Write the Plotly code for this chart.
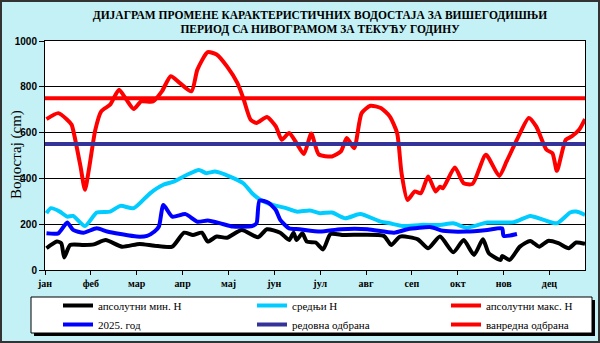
import plotly.graph_objects as go

# --- data (x = day of year, y = water level in cm) ---
months = ["јан", "феб", "мар", "апр", "мај", "јун", "јул", "авг", "сеп", "окт", "нов", "дец"]

min_days = [1, 8, 11, 13, 17, 26, 33, 41, 52, 64, 74, 86, 94, 100, 106, 110, 116, 123, 133, 144,
            150, 159, 165, 168, 170, 174, 177, 183, 188, 193, 202, 229, 234, 240, 252, 259, 267,
            276, 283, 290, 296, 300, 308, 309, 314, 321, 328, 334, 340, 347, 354, 359, 365]
min_h = [95, 124, 117, 55, 109, 109, 112, 131, 102, 114, 106, 102, 163, 153, 163, 124, 146, 141, 175, 143,
         178, 163, 131, 163, 131, 160, 124, 120, 90, 157, 153, 149, 109, 146, 134, 95, 146,
         77, 131, 66, 134, 73, 44, 61, 44, 102, 127, 102, 127, 117, 95, 120, 114]

mean_days = [1, 4, 10, 15, 19, 27, 35, 44, 51, 60, 71, 80, 87, 96, 104, 109, 115, 125, 134, 140, 145,
             154, 163, 170, 179, 186, 194, 203, 213, 227, 233, 242, 254, 267, 276, 285, 299, 317,
             328, 337, 346, 355, 359, 365]
mean_h = [248, 270, 255, 233, 236, 192, 251, 255, 280, 270, 335, 372, 386, 416, 437, 423, 430, 408, 379, 335, 309,
          284, 270, 255, 260, 248, 251, 226, 244, 211, 204, 192, 197, 197, 204, 185, 207, 209,
          236, 219, 204, 251, 255, 241]

max_days = [1, 9, 15, 18, 20, 24, 27, 30, 34, 38, 44, 50, 55, 60, 65, 73, 79, 85, 91, 99, 103, 110, 116,
            123, 130, 134, 139, 143, 150, 156, 160, 165, 170, 175, 180, 185, 194, 200, 204, 209, 214,
            220, 227, 233, 238, 241, 245, 250, 254, 259, 264, 267, 269, 277, 283, 289, 298, 307, 312,
            319, 327, 332, 339, 343, 346, 352, 356, 361, 365]
max_h = [659, 685, 656, 634, 583, 452, 350, 452, 612, 693, 722, 787, 744, 703, 736, 736, 780, 846, 817, 780, 875, 951, 941,
         889, 817, 751, 656, 642, 668, 627, 569, 598, 554, 506, 596, 505, 496, 518, 576, 532, 685,
         717, 707, 671, 598, 423, 306, 343, 335, 408, 343, 364, 357, 448, 379, 376, 503, 411, 474,
         569, 664, 627, 525, 510, 433, 569, 583, 612, 659]

cur_days = [1, 9, 15, 19, 26, 35, 42, 51, 62, 69, 74, 77, 80, 86, 95, 103, 110, 120, 127, 140, 143, 145,
            151, 156, 159, 165, 172, 186, 200, 218, 236, 245, 261, 269, 285, 299, 309, 310, 319]
cur_h = [160, 160, 207, 175, 163, 182, 168, 157, 146, 149, 168, 190, 284, 233, 244, 211, 216, 201, 190, 192, 204, 303,
         294, 262, 219, 182, 178, 168, 178, 178, 163, 178, 187, 171, 168, 175, 182, 149, 157]

regular_defence = 550
emergency_defence = 750

# --- layout geometry (pixels) ---
W, H = 600, 343
L, R, T, B = 45, 15, 41, 73
PW, PH = W - L - R, H - T - B
X_END = 365


def px(x):
    return (x - L) / PW


def py(y):
    return (H - B - y) / PH


serif = "Liberation Serif, Times New Roman, serif"
sans = "Liberation Sans, Arial, sans-serif"

fig = go.Figure()
lw = 4
fig.add_trace(go.Scatter(x=min_days, y=min_h, name="апсолутни мин. H", mode="lines",
                         line=dict(color="black", width=lw, shape="spline", smoothing=0.6)))
fig.add_trace(go.Scatter(x=mean_days, y=mean_h, name="средњи H", mode="lines",
                         line=dict(color="#00ccff", width=lw, shape="spline", smoothing=0.6)))
fig.add_trace(go.Scatter(x=max_days, y=max_h, name="апсолутни макс. H", mode="lines",
                         line=dict(color="#ff0000", width=lw, shape="spline", smoothing=0.6)))
fig.add_trace(go.Scatter(x=cur_days, y=cur_h, name="2025. год", mode="lines",
                         line=dict(color="#0000ff", width=lw, shape="spline", smoothing=0.6)))
fig.add_trace(go.Scatter(x=[0, X_END], y=[regular_defence] * 2, name="редовна одбрана", mode="lines",
                         line=dict(color="#333399", width=lw)))
fig.add_trace(go.Scatter(x=[0, X_END], y=[emergency_defence] * 2, name="ванредна одбрана", mode="lines",
                         line=dict(color="#ff0000", width=lw)))

shapes = [
    # legend shadow + box
    dict(type="rect", xref="paper", yref="paper", x0=px(34), x1=px(595), y0=py(300), y1=py(336),
         fillcolor="black", line=dict(width=0), layer="below"),
    dict(type="rect", xref="paper", yref="paper", x0=px(31), x1=px(592), y0=py(297), y1=py(333),
         fillcolor="white", line=dict(color="black", width=1), layer="below"),
    # outer frame
    dict(type="rect", xref="paper", yref="paper", x0=px(1), x1=px(599), y0=py(342), y1=py(1),
         line=dict(color="#333333", width=2)),
]

fig.update_layout(
    width=W, height=H,
    margin=dict(l=L, r=R, t=T, b=B, autoexpand=False),
    paper_bgcolor="#c4f1f5",
    plot_bgcolor="white",
    showlegend=True,
    shapes=shapes,
    title=dict(
        text="ДИЈАГРАМ ПРОМЕНЕ КАРАКТЕРИСТИЧНИХ ВОДОСТАЈА ЗА ВИШЕГОДИШЊИ<br>ПЕРИОД СА НИВОГРАМОМ ЗА ТЕКУЋУ ГОДИНУ",
        font=dict(family=serif, size=11.5, color="black", weight="bold"),
        x=px(320), xref="paper", xanchor="center",
        y=1 - 18.5 / H, yref="container", yanchor="middle",
    ),
    legend=dict(
        orientation="h", x=px(44), y=py(291), xanchor="left", yanchor="top",
        entrywidth=135, entrywidthmode="pixels", indentation=14,
        bgcolor="rgba(0,0,0,0)", font=dict(family=serif, size=11, color="black"),
        tracegroupgap=0,
    ),
    annotations=[
        # y-axis title sits partly over the tick labels, as in the original
        dict(text="Водостај (cm)", textangle=-90, showarrow=False,
             xref="paper", yref="paper", x=px(16), y=py(155), xanchor="center", yanchor="middle",
             font=dict(family=serif, size=15, color="black")),
    ],
)

fig.update_xaxes(
    range=[0, X_END],
    tickmode="array", tickvals=[31 * i for i in range(len(months))], ticktext=months,
    ticks="outside", ticklen=4, tickcolor="black",
    showgrid=False, zeroline=False,
    showline=True, linecolor="black", linewidth=1, mirror=True,
    tickfont=dict(family=serif, size=10, color="black", weight="bold"),
)
fig.update_yaxes(
    range=[0, 1000], dtick=200,
    ticks="outside", ticklen=5, tickcolor="black",
    showgrid=True, gridcolor="black", gridwidth=1, zeroline=False,
    showline=True, linecolor="black", linewidth=1, mirror=True,
    tickfont=dict(family=sans, size=10, color="black", weight="bold"),
)

# the page's default body margin would shift the fixed-size figure by 8px
fig.write_html("out.html", config={"displayModeBar": False},
               post_script="document.body.style.margin='0';")
